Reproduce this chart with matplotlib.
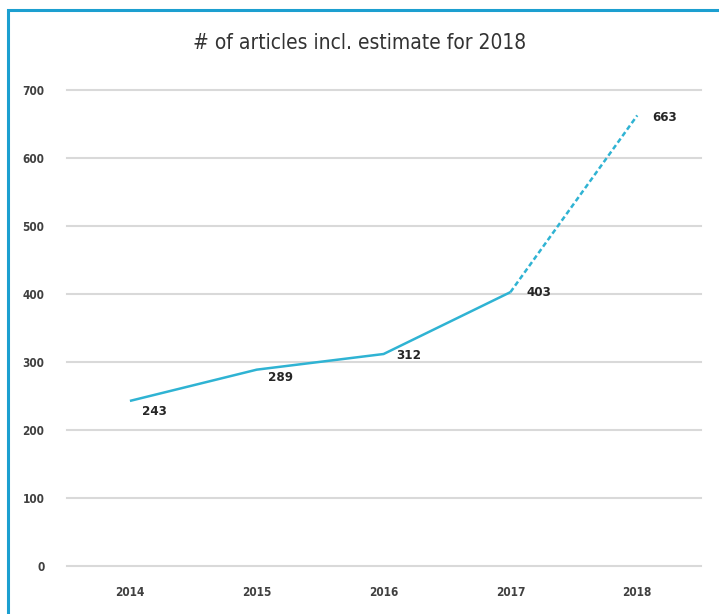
import matplotlib.pyplot as plt
from matplotlib.patches import Rectangle

# ---- data ----
years = ["2014", "2015", "2016", "2017", "2018"]
articles = [243, 289, 312, 403, 663]
n_actual = 4  # first four are real counts, 2018 is an estimate

line_col = "#2FB3D3"
text_col = "#404040"

fig = plt.figure(figsize=(7.19, 6.14), dpi=100)
ax = fig.add_axes([0.0925, 0.078, 0.882, 0.775])

x = list(range(len(years)))
ax.plot(x[:n_actual], articles[:n_actual], color=line_col, lw=1.8, solid_capstyle="butt")
ax.plot(x[n_actual - 1:], articles[n_actual - 1:], color=line_col, lw=1.8, ls=(0, (2, 1.2)))

# data labels (pixel offsets from the point)
offsets = [(12, -11), (11, -8), (13, -1), (16, 0), (15, -2)]
for xi, v, off in zip(x, articles, offsets):
    ax.annotate(str(v), (xi, v), xytext=off, textcoords="offset pixels", va="center",
                fontsize=9.5, color="#262626", fontweight="bold", fontstretch="condensed")

ax.set_xlim(-0.5, len(years) - 0.5)
ax.set_ylim(0, 700)
ax.set_yticks(range(0, 701, 100))
ax.set_xticks(x)
ax.set_xticklabels(years)
ax.grid(axis="y", color="#D9D9D9", lw=1.5)
for gl in ax.get_ygridlines():
    gl.set_clip_on(False)
ax.set_axisbelow(True)
for s in ax.spines.values():
    s.set_visible(False)
ax.tick_params(length=0, labelsize=8.5, colors=text_col)
ax.tick_params(axis="x", pad=14)
ax.tick_params(axis="y", pad=16)
for lab in ax.get_xticklabels() + ax.get_yticklabels():
    lab.set_fontweight("bold")
    lab.set_fontstretch("condensed")

fig.text(0.5, 0.93, "# of articles incl. estimate for 2018", ha="center", va="center",
         fontsize=15, color="#333333", fontstretch="condensed")

# chart frame (only left and top visible in the crop)
fig.add_artist(Rectangle((8 / 719, -0.05), 1.2, 1.05 - 10 / 614,
                         transform=fig.transFigure, fill=False, ec="#1C9FD0", lw=2.2))

fig.savefig("out.png", dpi=100)
